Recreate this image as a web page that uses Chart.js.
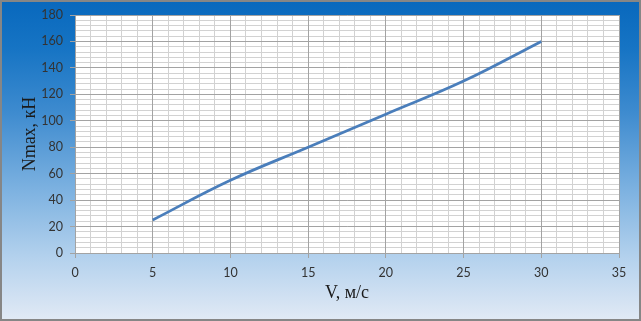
<!DOCTYPE html>
<html><head><meta charset="utf-8">
<script src="https://cdn.jsdelivr.net/npm/chart.js@4/dist/chart.umd.min.js"></script>
<style>html,body{margin:0;padding:0;background:#fff}#w{width:641px;height:321px}</style>
</head><body><div id="w"><canvas id="c" width="641" height="321"></canvas></div>
<script>
const speeds = [5, 10, 15, 20, 25, 30];
const nmax = [25, 55, 80, 105, 130, 160];
const xTitle = 'V, м/с';
const yTitle = 'Nmax, кН';

const bg = {
  id: 'bg',
  beforeDraw(chart) {
    const {ctx, width, height} = chart;
    ctx.save();
    const g = ctx.createLinearGradient(0, 0, 0, height);
    g.addColorStop(0, '#0868bd');
    g.addColorStop(0.15, '#1674c4');
    g.addColorStop(0.35, '#3e8bcf');
    g.addColorStop(0.6, '#7fb3e1');
    g.addColorStop(0.8, '#b3d1ed');
    g.addColorStop(1, '#e2eaf5');
    ctx.fillStyle = g;
    ctx.fillRect(0, 0, width, height);
    ctx.strokeStyle = '#868686';
    ctx.lineWidth = 2;
    ctx.strokeRect(1, 1, width - 2, height - 2);
    const a = chart.chartArea;
    ctx.fillStyle = '#ffffff';
    ctx.fillRect(a.left, a.top, a.right - a.left, a.bottom - a.top);
    ctx.restore();
  }
};

const tickFont = {family: 'Lato', size: 12.5};
const titleFont = {family: 'Liberation Serif', size: 18};
const major = '#a3a3a3';
const minor = '#d2d2d2';

new Chart(document.getElementById('c'), {
  type: 'scatter',
  data: {
    datasets: [{
      data: speeds.map((v, i) => ({x: v, y: nmax[i]})),
      showLine: true,
      borderColor: '#4a7ebb',
      borderWidth: 2.75,
      pointRadius: 0,
      tension: 0.4,
      fill: false
    }]
  },
  options: {
    responsive: false,
    animation: false,
    layout: {padding: {left: 0, right: 22, top: 15, bottom: 0}},
    plugins: {legend: {display: false}, tooltip: {enabled: false}},
    scales: {
      xm: {
        type: 'linear', position: 'bottom', min: 0, max: 35, z: -1,
        ticks: {display: false, stepSize: 1},
        grid: {color: minor, drawTicks: false, lineWidth: 1},
        border: {display: false},
        afterFit(s) { s.height = 0; }
      },
      ym: {
        type: 'linear', position: 'left', min: 0, max: 180, z: -1,
        ticks: {display: false, stepSize: 4},
        grid: {color: minor, drawTicks: false, lineWidth: 1},
        border: {display: false},
        afterFit(s) { s.width = 0; }
      },
      x: {
        type: 'linear', position: 'bottom', min: 0, max: 35,
        ticks: {stepSize: 5, color: '#333333', font: tickFont, padding: 7, maxRotation: 0},
        grid: {color: major, tickLength: 5, lineWidth: 1},
        border: {color: major},
        title: {display: true, text: xTitle, color: '#1a1a1a', font: titleFont, padding: {top: 0, bottom: 17}},
        afterFit(s) { s.height = 68; }
      },
      y: {
        type: 'linear', position: 'left', min: 0, max: 180,
        ticks: {stepSize: 20, color: '#333333', font: tickFont, padding: 7},
        grid: {color: major, tickLength: 5, lineWidth: 1},
        border: {color: major},
        title: {display: true, text: yTitle, color: '#1a1a1a', font: titleFont, padding: {top: 19, bottom: 0}},
        afterFit(s) { s.width = 75; }
      }
    }
  },
  plugins: [bg]
});
</script>
</body></html>
